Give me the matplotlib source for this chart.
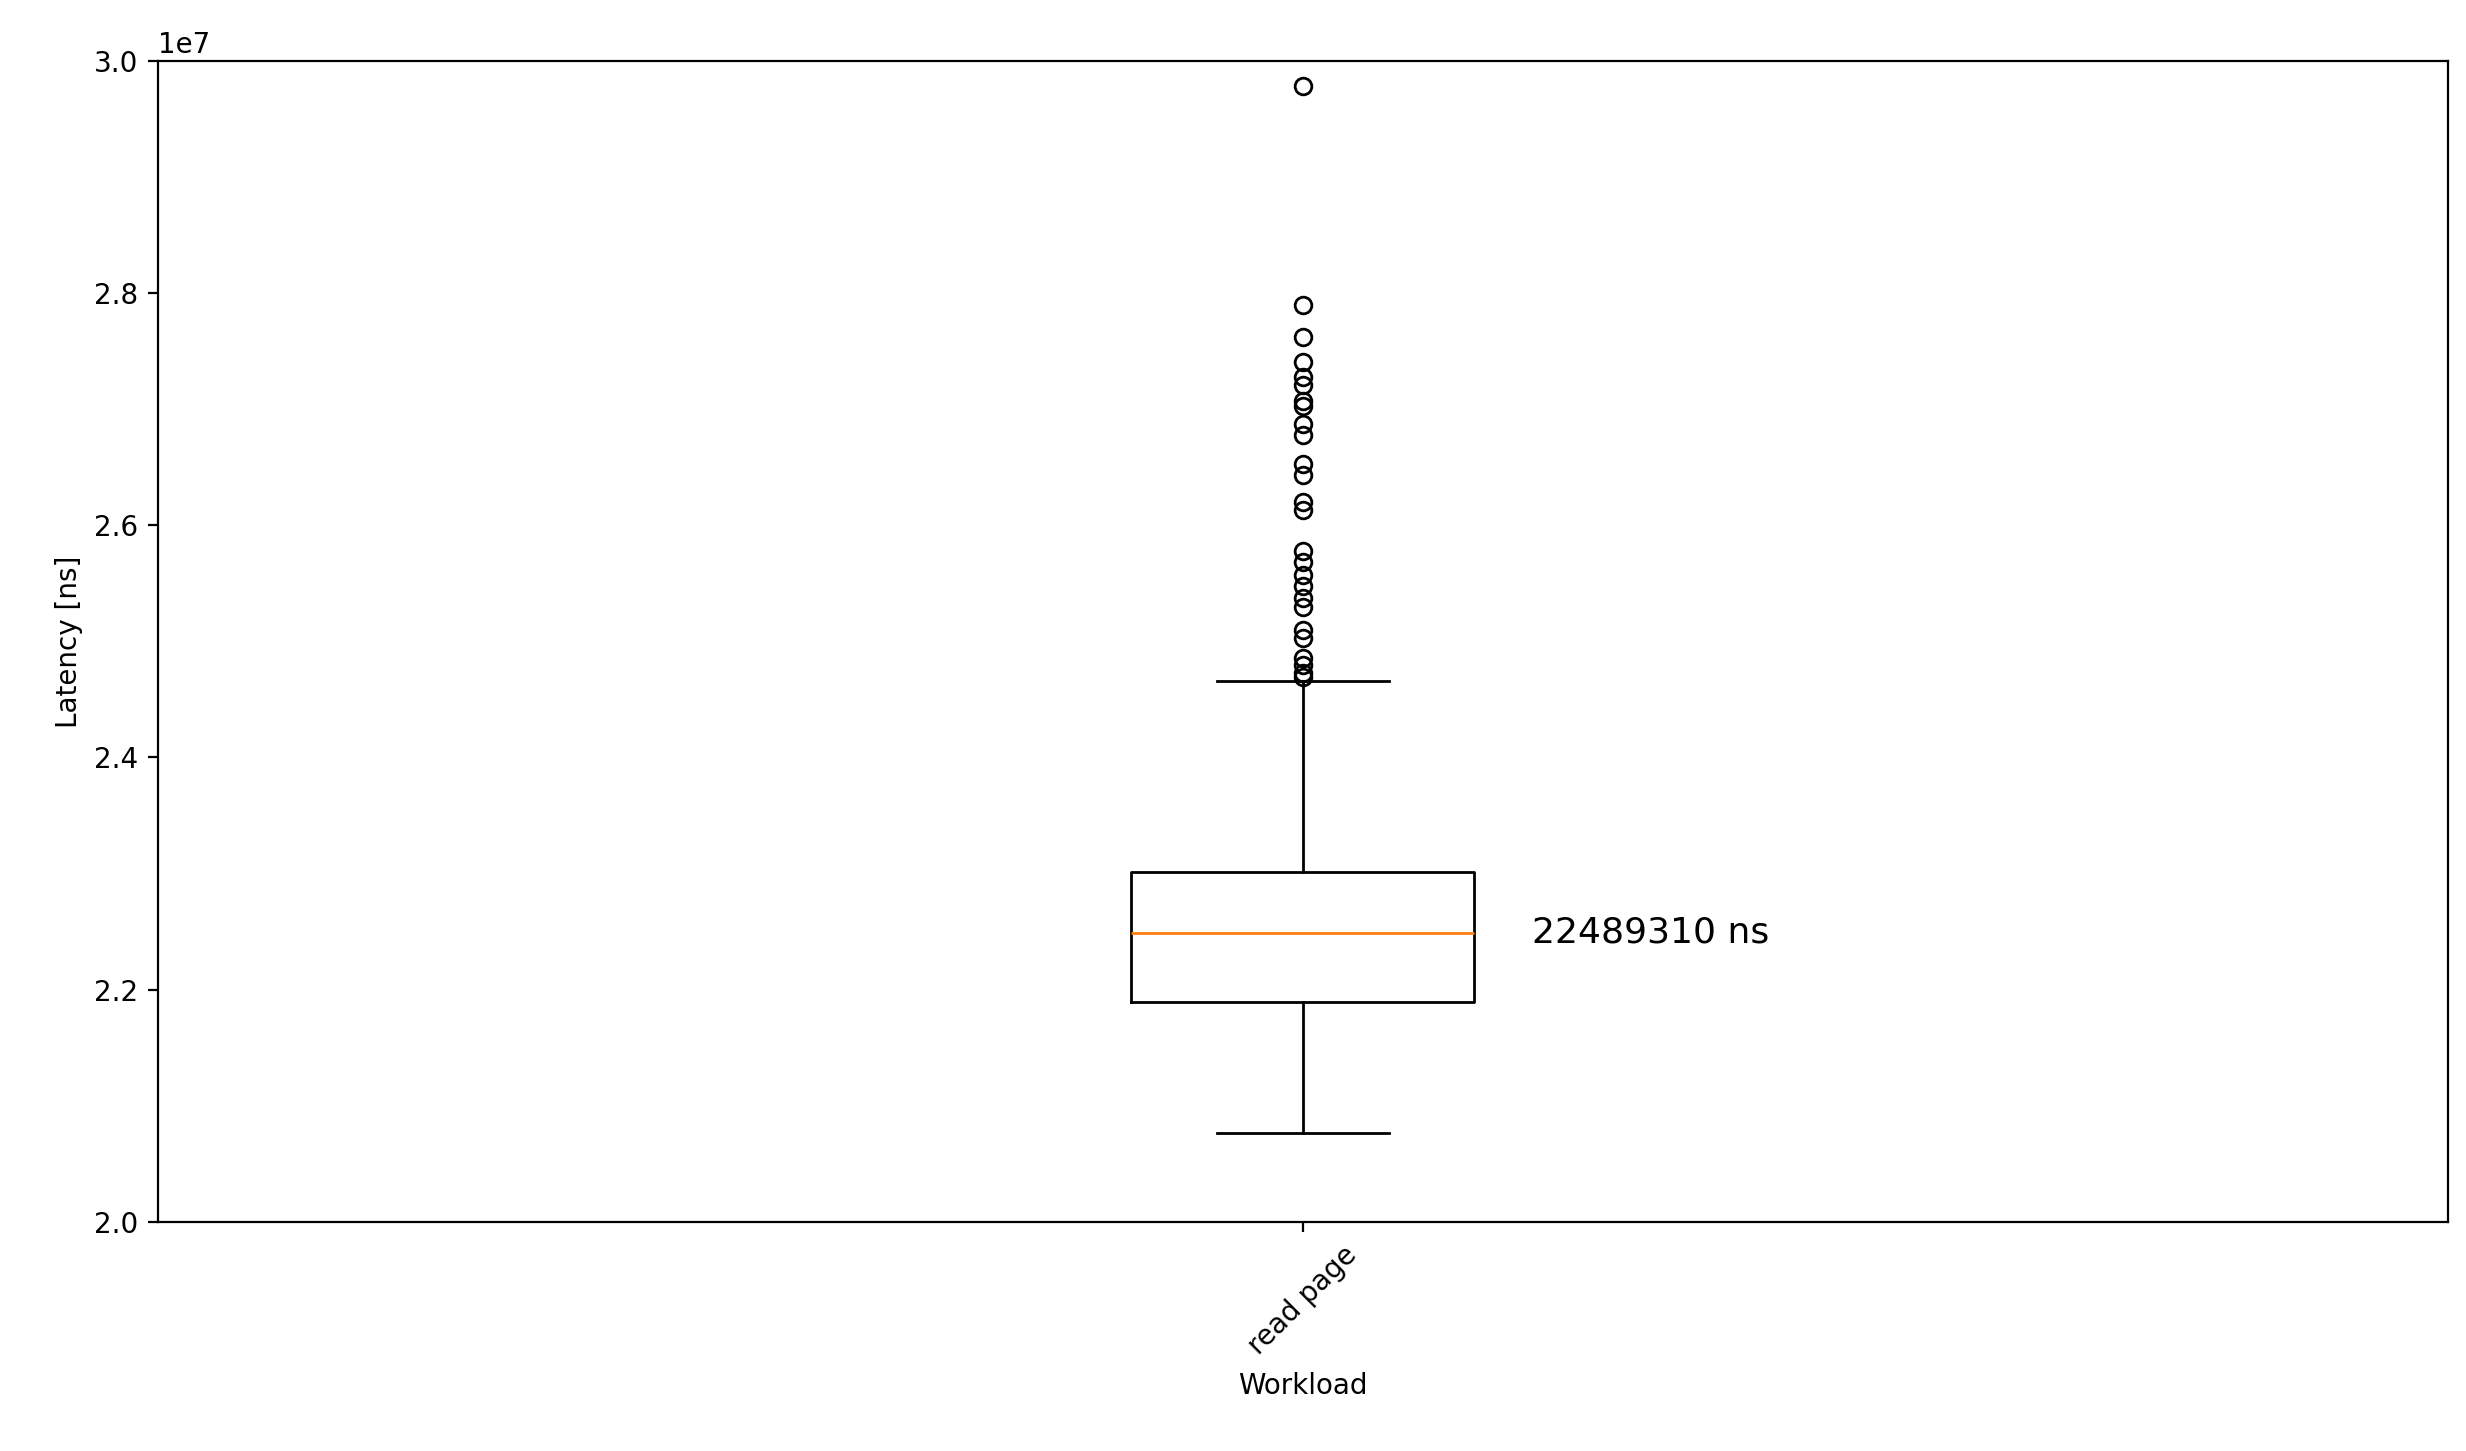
import matplotlib
matplotlib.use("Agg")
import matplotlib.pyplot as plt

labels = ["read page"]
median = 22489310
q1 = 2.189e7
q3 = 2.301e7
whislo = 2.0763e7
whishi = 2.466e7
fliers = [2.978e7, 2.790e7, 2.762e7, 2.741e7, 2.728e7, 2.721e7, 2.707e7, 2.703e7,
          2.687e7, 2.678e7, 2.653e7, 2.643e7, 2.620e7, 2.613e7, 2.578e7, 2.568e7,
          2.557e7, 2.548e7, 2.537e7, 2.530e7, 2.510e7, 2.503e7, 2.486e7, 2.480e7,
          2.473e7, 2.469e7]

fig, ax = plt.subplots(figsize=(12.33, 7.255), dpi=200)
stats = [dict(med=median, q1=q1, q3=q3, whislo=whislo, whishi=whishi,
              fliers=fliers, label=labels[0])]
ax.bxp(stats, widths=0.15)
ax.set_ylim(2.0e7, 3.0e7)
ax.text(1.1, median, f"{median} ns", va="center", ha="left", fontsize=13)
ax.set_xlabel("Workload")
ax.set_ylabel("Latency [ns]")
plt.setp(ax.get_xticklabels(), rotation=45)
plt.tight_layout()
fig.subplots_adjust(left=0.064, right=0.9925, top=0.958, bottom=0.158)
fig.savefig("out.png")
